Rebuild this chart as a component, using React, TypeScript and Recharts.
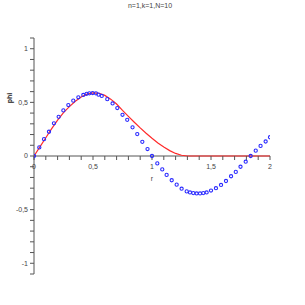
import React from 'react';
import { ComposedChart, Line, Scatter, XAxis, YAxis, ReferenceLine, ReferenceDot } from 'recharts';

const title = 'n=1,k=1,N=10';
const xLabel = 'r';
const yLabel = 'phi';

const blueX = [0, 0.045, 0.085, 0.127, 0.169, 0.209, 0.249, 0.291, 0.333, 0.376, 0.418, 0.446, 0.469, 0.497, 0.525, 0.547, 0.574, 0.621, 0.666, 0.706, 0.75, 0.79, 0.835, 0.875, 0.918, 0.962, 1.0, 1.045, 1.087, 1.124, 1.167, 1.209, 1.251, 1.294, 1.322, 1.35, 1.378, 1.407, 1.435, 1.463, 1.5, 1.542, 1.585, 1.627, 1.67, 1.71, 1.75, 1.794, 1.836, 1.879, 1.92, 1.963, 2.0];
const blueY = [0, 0.08, 0.157, 0.226, 0.305, 0.365, 0.425, 0.475, 0.516, 0.547, 0.569, 0.58, 0.584, 0.587, 0.584, 0.572, 0.56, 0.53, 0.49, 0.447, 0.384, 0.337, 0.267, 0.204, 0.132, 0.065, 0, -0.069, -0.125, -0.176, -0.226, -0.267, -0.305, -0.33, -0.34, -0.346, -0.349, -0.349, -0.346, -0.34, -0.322, -0.3, -0.27, -0.233, -0.189, -0.148, -0.1, -0.053, 0, 0.05, 0.094, 0.135, 0.175];

const redX = [0, 0.05, 0.1, 0.15, 0.2, 0.25, 0.3, 0.35, 0.4, 0.45, 0.5, 0.55, 0.6, 0.65, 0.7, 0.75, 0.8, 0.85, 0.9, 0.95, 1.0, 1.05, 1.1, 1.15, 1.2, 1.25, 1.3, 1.5, 1.75, 2.0];
const redY = [0, 0.085, 0.17, 0.255, 0.335, 0.405, 0.46, 0.51, 0.55, 0.577, 0.588, 0.585, 0.565, 0.53, 0.485, 0.425, 0.37, 0.315, 0.262, 0.212, 0.165, 0.122, 0.083, 0.05, 0.024, 0.007, 0, 0, 0, 0];

const xTicks = [0, 0.1, 0.2, 0.3, 0.4, 0.5, 0.6, 0.7, 0.8, 0.9, 1, 1.1, 1.2, 1.3, 1.4, 1.5, 1.6, 1.7, 1.8, 1.9, 2];
const xTickLabels: Record<string, string> = { '0': '0', '0.5': '0,5', '1': '1', '1.5': '1,5', '2': '2' };
const yTicks = [-1.1, -1, -0.9, -0.8, -0.7, -0.6, -0.5, -0.4, -0.3, -0.2, -0.1, 0, 0.1, 0.2, 0.3, 0.4, 0.5, 0.6, 0.7, 0.8, 0.9, 1, 1.1];
const yTickLabels: Record<string, string> = { '-1': '-1', '-0.5': '-0,5', '0': '0', '0.5': '0,5', '1': '1' };

const blueData = blueX.map((x, i) => ({ x, y: blueY[i] }));
const redData = redX.map((x, i) => ({ x, y: redY[i] }));

const AXIS = '#555';
const TEXT = '#444';
const FONT = '"Liberation Sans", Arial, sans-serif';

const circle = (p: any) => (
  <circle cx={p.cx} cy={p.cy} r={1.6} fill="none" stroke="#2a2aff" strokeWidth={1.1} />
);

const xTickShape = (label: string | undefined) => (p: any) => (
  <g>
    <line x1={p.cx} y1={p.cy} x2={p.cx} y2={p.cy + 4} stroke={AXIS} strokeWidth={1} />
    {label !== undefined && (
      <text x={p.cx} y={p.cy + 12.5} textAnchor="middle" fontSize={7} fill={TEXT} fontFamily={FONT}>
        {label}
      </text>
    )}
  </g>
);

const rShape = (p: any) => (
  <text x={p.cx} y={p.cy + 25} textAnchor="middle" fontSize={7} fill={TEXT} fontFamily={FONT}>
    {xLabel}
  </text>
);

export default function App() {
  return (
    <div style={{ position: 'absolute', left: 0, top: 0, width: 305, height: 305, background: '#fff' }}>
      <div
        style={{
          position: 'absolute',
          left: 0,
          top: 2,
          width: 300,
          textAlign: 'center',
          fontSize: 7,
          fontFamily: FONT,
          color: TEXT,
        }}
      >
        {title}
      </div>
      <div
        style={{
          position: 'absolute',
          left: -2,
          top: 94,
          width: 24,
          textAlign: 'center',
          fontSize: 7,
          fontWeight: 'bold',
          fontFamily: FONT,
          color: '#222',
          transform: 'rotate(-90deg)',
          lineHeight: '8px',
        }}
      >
        {yLabel}
      </div>
      <ComposedChart
        width={305}
        height={305}
        margin={{ top: 38, right: 35, bottom: 31, left: 4 }}
        style={{ position: 'absolute', left: 0, top: 0 }}
      >
        <XAxis type="number" dataKey="x" domain={[0, 2]} hide allowDataOverflow />
        <YAxis
          type="number"
          domain={[-1.1, 1.1]}
          ticks={yTicks}
          interval={0}
          width={30}
          tickSize={4}
          tickMargin={2}
          allowDataOverflow
          axisLine={{ stroke: AXIS, strokeWidth: 1 }}
          tickLine={{ stroke: AXIS, strokeWidth: 1 }}
          tick={{ fontSize: 7, fill: TEXT, fontFamily: FONT }}
          tickFormatter={(v: number) => yTickLabels[String(Math.round(v * 10) / 10)] ?? ''}
        />
        <ReferenceLine y={0} stroke={AXIS} strokeWidth={1} />
        {xTicks.map((t) => (
          <ReferenceDot key={t} x={t} y={0} r={0} shape={xTickShape(xTickLabels[String(t)])} />
        ))}
        <ReferenceDot x={1} y={0} r={0} shape={rShape} />
        <Line
          data={redData}
          dataKey="y"
          type="linear"
          stroke="#ff2a2a"
          strokeWidth={1.2}
          dot={false}
          isAnimationActive={false}
        />
        <Scatter data={blueData} dataKey="y" shape={circle} isAnimationActive={false} />
      </ComposedChart>
    </div>
  );
}
